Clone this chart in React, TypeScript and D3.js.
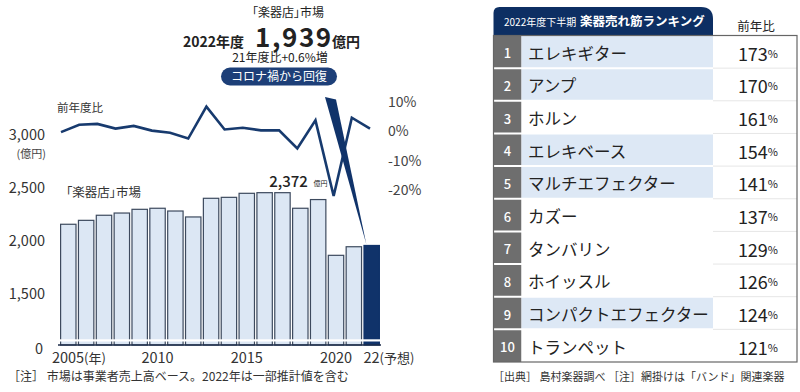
import React from 'react';
import * as d3 from 'd3';

const years = [2005, 2006, 2007, 2008, 2009, 2010, 2011, 2012, 2013, 2014, 2015, 2016, 2017, 2018, 2019, 2020, 2021, 2022];
const marketValues = [2139, 2176, 2224, 2245, 2280, 2290, 2264, 2208, 2384, 2393, 2431, 2437, 2437, 2290, 2372, 1846, 1927, 1939];
const yoyValues = [-0.6, 1.9, 2.2, 0.6, 1.5, -0.1, -0.8, -2.8, 8.1, 0.3, 0.9, 0.0, 0.0, -6.2, 3.4, -22.4, 4.3, 0.6];
const leftTicks = [1500, 2000, 2500, 3000];
const leftTickLabels = ['1,500', '2,000', '2,500', '3,000'];
const rightTicks = [10, 0, -10, -20];
const xTickYears = [2005, 2010, 2015, 2020, 2022];
const xTickLabels = ['2005', '2010', '2015', '2020', '22'];
const xTickSuffix = ['(年)', '', '', '', '(予想)'];

const rankItems = ['エレキギター', 'アンプ', 'ホルン', 'エレキベース', 'マルチエフェクター', 'カズー', 'タンバリン', 'ホイッスル', 'コンパクトエフェクター', 'トランペット'];
const rankRatios = [173, 170, 161, 154, 141, 137, 129, 126, 124, 121];
const bandRelated = [true, true, false, true, true, false, false, false, true, false];

const FONT = '"Noto Sans CJK JP", "Noto Sans", sans-serif';
const NAVY = '#10336a';

export default function App() {
  const x = d3.scaleBand<number>().domain(years).range([60, 380]).paddingInner(0.07);
  const xl = d3.scalePoint<number>().domain(years).range([61, 370]);
  const y = d3.scaleLinear().domain([1000, 3000]).range([345, 133]);
  const yr = d3.scaleLinear().domain([-20, 10]).range([189, 101]);
  const line = d3.line<number>().x((_, i) => xl(years[i])!).y((v) => yr(v)).curve(d3.curveLinear);

  const lastYear = years[years.length - 1];
  const lastVal = marketValues[marketValues.length - 1];
  const tipX = x(lastYear)! + 3;
  const tipY = y(lastVal) - 1;
  const annIdx = years.indexOf(2019);

  // ranking table
  const rows = d3.scaleBand<number>().domain(d3.range(rankItems.length)).range([35.5, 362]);
  const tLeft = 493.5, rankW = 28, textRight = 713, tRight = 797;

  return (
    <svg width={800} height={392} style={{ position: 'absolute', left: 0, top: 0, background: '#fff' }} fontFamily={FONT}>
      <rect width={800} height={392} fill="#fff" />
      {/* Top headline */}
      <text x={288} y={17} textAnchor="middle" fontSize={12} fill="#222" style={{ fontFeatureSettings: '"palt"' }}>「楽器店」市場</text>
      <text x={183} y={47} fontSize={14} fontWeight={700} fill="#222">2022年度</text>
      <text x={255} y={47} fontSize={26} fontWeight={700} letterSpacing={1.6} fill="#222">1,939</text>
      <text x={332} y={47} fontSize={14} fontWeight={700} fill="#222">億円</text>
      <text x={280} y={62} textAnchor="middle" fontSize={12} fill="#222">21年度比+0.6%増</text>
      <rect x={221} y={67.5} width={116} height={18} rx={9} fill="#1d3f78" />
      <text x={279} y={81} textAnchor="middle" fontSize={12} fill="#fff">コロナ禍から回復</text>

      {/* left axis */}
      {leftTicks.map((t, i) => (
        <text key={t} x={45} y={y(t)} dominantBaseline="central" textAnchor="end" fontSize={14.5} fill="#333">{leftTickLabels[i]}</text>
      ))}
      <text x={43} y={y(1000) + 2} dominantBaseline="central" textAnchor="end" fontSize={14.5} fill="#333">0</text>
      <text x={46} y={158} textAnchor="end" fontSize={11} fill="#444">(億円)</text>

      {/* right axis */}
      {rightTicks.map((t) => (
        <text key={t} x={388} y={yr(t)} dominantBaseline="central" fontSize={14} fill="#444">{`${t}%`}</text>
      ))}

      {/* labels */}
      <text x={57} y={112} fontSize={11.5} fill="#333">前年度比</text>
      <text x={66} y={197} fontSize={12.5} fill="#333" style={{ fontFeatureSettings: '"palt"' }}>「楽器店」市場</text>

      {/* bars */}
      {years.map((yr0, i) => {
        const isLast = i === years.length - 1;
        return (
          <rect key={yr0} x={x(yr0)! + 0.6} y={y(marketValues[i])} width={x.bandwidth() - 1.2} height={y(1000) - y(marketValues[i])}
            fill={isLast ? NAVY : '#dce7f4'} stroke={isLast ? NAVY : '#3d4a5e'} strokeWidth={1.2} />
        );
      })}
      {/* axis break */}
      <rect x={58} y={339.3} width={324} height={2.2} fill="#fff" />
      <line x1={58} x2={381} y1={y(1000)} y2={y(1000)} stroke="#1c2c4a" strokeWidth={1.6} />

      {/* annotation 2,372 */}
      <text x={x(2019)! - 2} y={y(marketValues[annIdx]) - 13} textAnchor="end" fontSize={15} fontWeight={500} fill="#222">2,372</text>
      <text x={x(2019)! + x.bandwidth() + 1} y={y(marketValues[annIdx]) - 14} textAnchor="end" fontSize={7} fill="#222">億円</text>

      {/* yoy line */}
      <path d={line(yoyValues) || ''} fill="none" stroke="#173a6e" strokeWidth={2.6} strokeLinejoin="miter" />

      {/* callout wedge */}
      <polygon points={`325,97 336,99.5 ${tipX},${tipY}`} fill={NAVY} />

      {/* x axis labels */}
      {xTickYears.map((yy, i) => {
        const cx = x(yy)! + x.bandwidth() / 2;
        return (
          <text key={yy} x={cx - (xTickSuffix[i] === '' ? 0 : (xTickLabels[i].length * 8.2) / 2)} y={362.5} textAnchor={xTickSuffix[i] === '' ? 'middle' : 'start'} fontSize={14.5} fill="#333">
            {xTickLabels[i]}
            {xTickSuffix[i] && <tspan fontSize={13}>{xTickSuffix[i]}</tspan>}
          </text>
        );
      })}
      <text x={8} y={380.5} fontSize={12} fill="#333">［注］ 市場は事業者売上高ベース。2022年は一部推計値を含む</text>

      {/* Ranking header */}
      <path d={`M${tLeft},35.5 L${tLeft},13 Q${tLeft},7 ${tLeft + 6},7 L${textRight - 12},7 Q${textRight},7 ${textRight},19 L${textRight},35.5 Z`} fill="#0d2f63" />
      <text x={504} y={26} fontSize={10} fill="#fff">2022年度下半期</text>
      <text x={580} y={26} fontSize={12.5} fontWeight={700} fill="#fff">楽器売れ筋ランキング</text>
      <text x={756} y={31} textAnchor="middle" fontSize={12.5} fill="#222">前年比</text>

      {/* Ranking rows */}
      {rankItems.map((name, i) => {
        const ry = rows(i)!;
        const h = rows.bandwidth();
        return (
          <g key={name}>
            <rect x={tLeft} y={ry} width={rankW} height={h} fill="#6e6e6e" />
            <rect x={tLeft + rankW} y={ry} width={textRight - tLeft - rankW} height={h} fill={bandRelated[i] ? '#dde8f5' : '#fff'} />
            <text x={tLeft + rankW / 2} y={ry + h / 2 + 1} textAnchor="middle" dominantBaseline="central" fontSize={13} fontWeight={500} fill="#fff">{i + 1}</text>
            <text x={528} y={ry + h / 2 + 1} dominantBaseline="central" fontSize={16.5} fill="#222">{name}</text>
            <text x={778} y={ry + h / 2 + 1} dominantBaseline="central" textAnchor="end" fill="#222">
              <tspan fontSize={18}>{rankRatios[i]}</tspan>
              <tspan fontSize={11}>%</tspan>
            </text>
          </g>
        );
      })}
      {rankItems.slice(1).map((_, i) => {
        const ry = rows(i + 1)!;
        return (
          <g key={`sep${i}`}>
            <line x1={tLeft} x2={textRight} y1={ry} y2={ry} stroke="#fff" strokeWidth={2} />
            <line x1={textRight} x2={tRight} y1={ry} y2={ry} stroke="#e6e6e6" strokeWidth={1} />
          </g>
        );
      })}
      <rect x={tLeft} y={35.5} width={tRight - tLeft} height={362 - 35.5} fill="none" stroke="#666" strokeWidth={1.2} />
      <text x={493} y={380.5} fontSize={11} fill="#333">［出典］ 島村楽器調べ ［注］網掛けは「バンド」関連楽器</text>
    </svg>
  );
}
